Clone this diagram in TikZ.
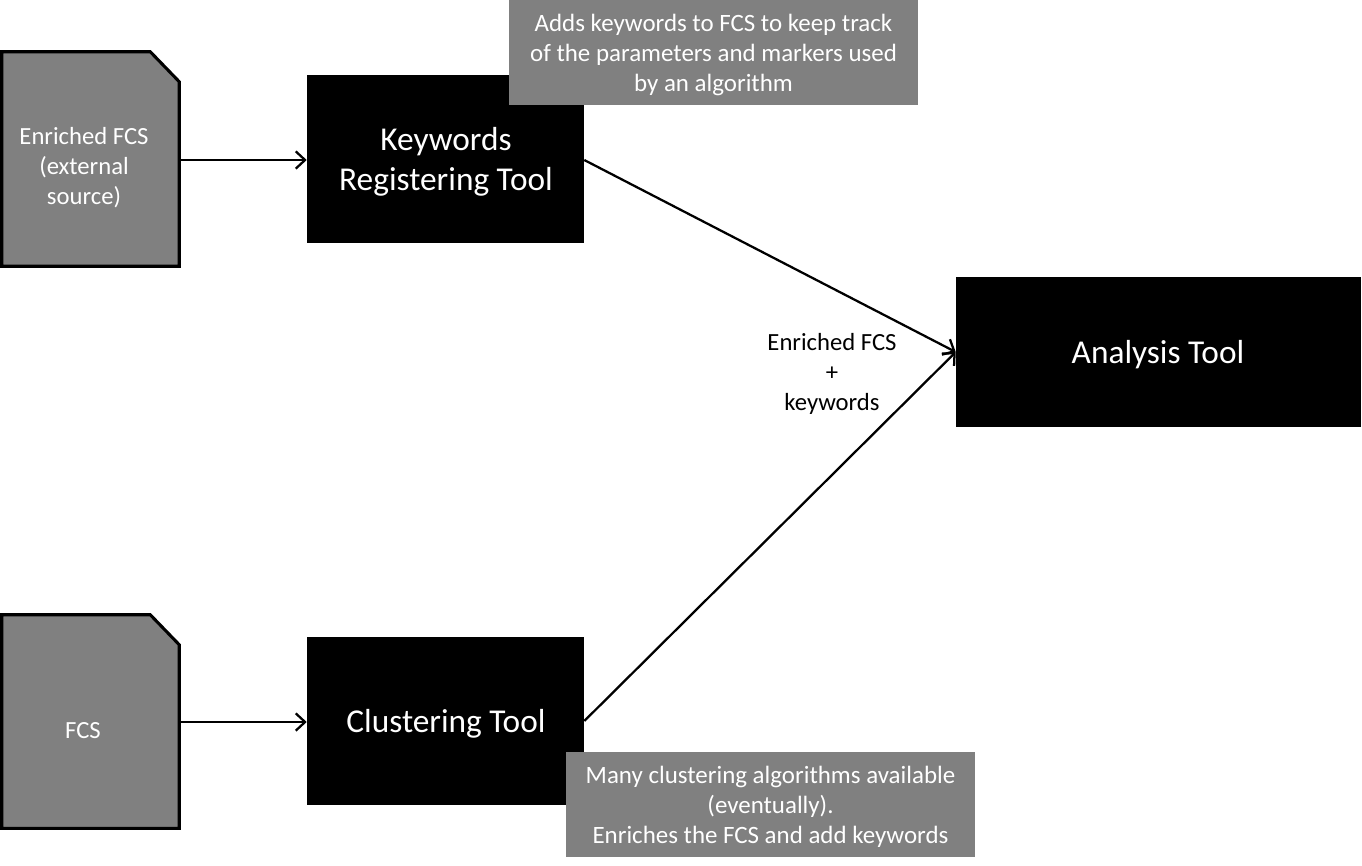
\documentclass[tikz,border=0pt]{standalone}
\usepackage{fontspec}
\setmainfont{Carlito}
\usetikzlibrary{arrows.meta}
\definecolor{boxgray}{HTML}{808080}
\tikzset{
  tool/.style={fill=black, inner sep=0pt},
  tooltext/.style={text=white, inner sep=0pt, align=center,
    font=\fontsize{25pt}{30pt}\selectfont},
  note/.style={fill=boxgray, text=white, inner sep=0pt, align=center,
    font=\fontsize{18.7pt}{22.5pt}\selectfont},
  docarea/.style={inner sep=0pt, text=white, align=center,
    font=\fontsize{18.5pt}{22.5pt}\selectfont},
  docshape/.style={fill=boxgray, draw=black, line width=2.3pt, line join=miter},
  lbl/.style={inner sep=0pt, align=center, text=black,
    font=\fontsize{18.5pt}{22.5pt}\selectfont},
  conn/.style={line width=1.7pt, -{Straight Barb[length=7pt,width=13pt,line width=1.7pt]}}
}
\begin{document}
\begin{tikzpicture}[x=0.75pt,y=-0.75pt]
\useasboundingbox (0,0) rectangle (1362,865);
% documents
\node[docarea, minimum width=177*0.75pt, minimum height=214*0.75pt] (doc1) at (90.5,159) {};
\draw[docshape] (doc1.south west) -- (doc1.north west) -- ([xshift=-29*0.75pt]doc1.north east)
  -- ([yshift=-30*0.75pt]doc1.north east) -- (doc1.south east) -- cycle;
\node[docarea] (doc1t) at (84,168) {Enriched FCS\\(external\\source)};
\node[docarea, minimum width=177*0.75pt, minimum height=213*0.75pt] (doc2) at (90.5,721.5) {};
\draw[docshape] (doc2.south west) -- (doc2.north west) -- ([xshift=-29*0.75pt]doc2.north east)
  -- ([yshift=-30*0.75pt]doc2.north east) -- (doc2.south east) -- cycle;
\node[docarea] (doc2t) at (83,731) {FCS};
% tools
\node[tool, minimum width=277*0.75pt, minimum height=168*0.75pt] (krt) at (445.5,159) {};
\node[tooltext] (krtt) at (446,162) {Keywords\\Registering Tool};
\node[tool, minimum width=277*0.75pt, minimum height=168*0.75pt] (clu) at (445.5,721) {};
\node[tooltext] (clut) at (446,724) {Clustering Tool};
\node[tool, minimum width=405*0.75pt, minimum height=150*0.75pt] (ana) at (1158.5,352) {};
\node[tooltext] (anat) at (1158,355) {Analysis Tool};
% connectors
\draw[conn] (doc1.east |- 0,160) -- (krt.west |- 0,160);
\draw[conn] (doc2.east |- 0,722) -- (krt.west |- 0,722);
\draw[conn] (krt.east |- 0,160) -- (ana.west);
\draw[conn] (clu.east) -- (ana.west);
% label
\node[lbl] (lab) at (832,374) {Enriched FCS\\+\\keywords};
% notes
\node[note, minimum width=409*0.75pt, minimum height=105*0.75pt] (n1) at (713.5,52.5) {};
\node[note] (n1t) at (713.5,54.5)
  {Adds keywords to FCS to keep track\\of the parameters and markers used\\by an algorithm};
\node[note, minimum width=409*0.75pt, minimum height=105*0.75pt] (n2) at (770.5,804.5) {};
\node[note] (n2t) at (770.5,806.5)
  {Many clustering algorithms available\\(eventually).\\Enriches the FCS and add keywords};
\end{tikzpicture}
\end{document}
